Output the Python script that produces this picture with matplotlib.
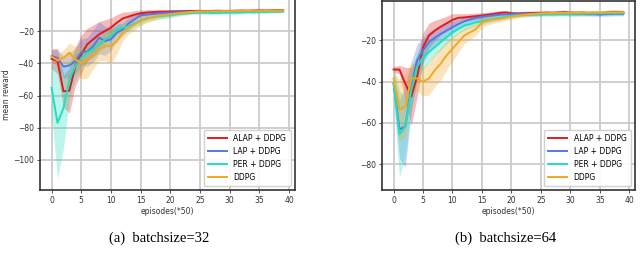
import numpy as np
import matplotlib.pyplot as plt

episodes = np.arange(40)
labels = ["ALAP + DDPG", "LAP + DDPG", "PER + DDPG", "DDPG"]
colors = ["#e01b1b", "#5577e8", "#1fe0be", "#f4a720"]

# batchsize = 32
alap32 = [-37.1, -38.5, -57.3, -56.9, -41.7, -34.4, -28.1, -25.0, -21.9, -19.8,
          -17.7, -14.6, -12.0, -10.8, -9.6, -8.8, -8.3, -8.1, -7.9, -7.8,
          -7.7, -7.6, -7.5, -7.4, -7.3, -7.3, -7.4, -7.3, -7.2, -7.3,
          -7.3, -7.2, -7.1, -7.2, -7.1, -7.0, -7.1, -7.0, -6.9, -6.9]
alap32_sd = [6, 8, 10, 14, 12, 12, 10, 9, 8, 7, 6, 5, 4, 3, 2.5, 2, 1.8, 1.6, 1.5, 1.4,
             1.3, 1.2, 1.1, 1, 1, 1, 1, 1, 1, 1, 1, 1, 1, 1, 1, 1, 1, 1, 1, 1]
lap32 = [-35.4, -36.5, -42.0, -41.2, -38.5, -32.9, -32.7, -29.2, -24.0, -26.0,
         -25.0, -20.8, -18.8, -15.0, -12.5, -10.0, -9.6, -9.2, -8.8, -8.5,
         -8.3, -8.1, -8.0, -7.9, -7.8, -7.6, -7.7, -7.6, -7.5, -7.6,
         -7.6, -7.5, -7.5, -7.4, -7.4, -7.3, -7.4, -7.3, -7.3, -7.2]
lap32_sd = [4, 5, 7, 8, 8, 8, 9, 10, 10, 9, 7, 5, 4, 4, 3, 2.5, 2, 2, 1.8, 1.6,
            1.5, 1.4, 1.3, 1.2, 1.1, 1, 1, 1, 1, 1, 1, 1, 1, 1, 1, 1, 1, 1, 1, 1]
per32 = [-55.2, -77.0, -67.7, -50.0, -41.7, -36.5, -33.3, -31.2, -28.1, -25.0,
         -22.9, -18.8, -17.7, -16.7, -15.0, -13.5, -12.0, -11.4, -10.8, -10.4,
         -10.0, -9.5, -9.0, -8.7, -8.5, -8.3, -8.4, -8.6, -8.5, -8.4,
         -8.3, -8.4, -8.2, -8.0, -8.1, -7.9, -7.8, -7.7, -7.6, -7.5]
per32_sd = [15, 35, 25, 12, 8, 6, 5, 5, 5, 5, 4, 3.5, 3, 3, 2.5, 2.2, 2, 1.8, 1.6, 1.5,
            1.4, 1.3, 1.2, 1.1, 1, 1, 1, 1, 1, 1, 1, 1, 1, 1, 1, 1, 1, 1, 1, 1]
ddpg32 = [-35.8, -38.1, -36.5, -33.3, -37.5, -39.6, -38.5, -35.4, -31.2, -29.2,
          -29.2, -26.0, -20.8, -17.7, -15.6, -13.5, -12.3, -11.3, -10.4, -9.9,
          -9.4, -8.9, -8.5, -8.1, -7.8, -7.6, -7.6, -7.5, -7.5, -7.4,
          -7.4, -7.4, -7.3, -7.3, -7.2, -7.2, -7.2, -7.1, -7.1, -7.0]
ddpg32_sd = [3, 4, 5, 6, 8, 10, 11, 8, 7, 9, 11, 8, 5, 4, 3.5, 3, 2.5, 2.2, 2, 1.8,
             1.6, 1.4, 1.2, 1.1, 1, 1, 1, 1, 1, 1, 1, 1, 1, 1, 1, 1, 1, 1, 1, 1]

# batchsize = 64
alap64 = [-34.1, -34.1, -41.0, -47.2, -37.6, -23.2, -17.6, -15.2, -13.3, -11.7,
          -10.0, -9.0, -8.8, -8.5, -8.2, -7.9, -7.5, -7.1, -6.6, -6.4,
          -6.8, -6.9, -6.8, -6.7, -6.6, -6.6, -6.5, -6.6, -6.4, -6.3,
          -6.5, -6.6, -6.5, -6.7, -6.6, -6.8, -6.5, -6.2, -6.3, -6.4]
alap64_sd = [1.5, 2, 8, 14, 10, 7, 6, 5, 4, 3.5, 3, 2, 1.8, 1.6, 1.5, 1.4, 1.3, 1.2, 1.1, 1,
             1, 1, 1, 1, 1, 1, 1, 1, 1, 1, 1, 1, 1, 1, 1, 1, 1, 1, 1, 1]
lap64 = [-40.8, -63.2, -61.6, -42.4, -29.6, -24.8, -20.8, -18.7, -16.8, -15.2,
         -13.6, -12.0, -10.7, -9.8, -9.0, -8.5, -8.1, -7.8, -7.5, -7.3,
         -7.2, -7.2, -7.1, -7.0, -7.0, -6.9, -6.9, -7.0, -6.9, -6.9,
         -7.0, -7.1, -7.0, -7.1, -7.2, -7.3, -7.2, -7.1, -7.0, -7.0]
lap64_sd = [5, 14, 20, 12, 8, 6, 5, 4.5, 4, 3.5, 3, 2.5, 2.2, 2, 1.8, 1.6, 1.5, 1.4, 1.3, 1.2,
            1.1, 1, 1, 1, 1, 1, 1, 1, 1, 1, 1, 1, 1, 1, 1, 1, 1, 1, 1, 1]
per64 = [-40.8, -65.6, -61.6, -44.0, -32.8, -28.0, -25.6, -23.2, -20.8, -18.4,
         -16.0, -14.4, -12.8, -12.0, -11.2, -10.6, -10.0, -9.5, -9.0, -8.5,
         -8.0, -7.8, -7.6, -7.5, -7.4, -7.3, -7.2, -7.2, -7.1, -7.1,
         -7.1, -7.0, -7.0, -6.9, -6.9, -6.8, -6.8, -6.8, -6.7, -6.7]
per64_sd = [8, 21, 14, 10, 7, 6, 5, 4, 4, 3.5, 3, 2.5, 2.2, 2, 1.8, 1.6, 1.5, 1.4, 1.3, 1.2,
            1.1, 1, 1, 1, 1, 1, 1, 1, 1, 1, 1, 1, 1, 1, 1, 1, 1, 1, 1, 1]
ddpg64 = [-38.4, -53.6, -52.0, -38.4, -38.4, -40.0, -38.4, -34.4, -31.2, -27.2,
          -24.0, -20.8, -17.6, -16.0, -14.4, -11.2, -10.4, -9.9, -9.5, -9.0,
          -8.5, -8.0, -7.6, -7.3, -7.0, -6.8, -6.7, -6.7, -6.6, -6.6,
          -6.5, -6.6, -6.5, -6.5, -6.4, -6.4, -6.4, -6.3, -6.3, -6.3]
ddpg64_sd = [3, 15, 15, 8, 6, 7, 8, 8, 8, 7, 6, 5, 4, 3.5, 3, 2.5, 2, 1.8, 1.6, 1.4,
             1.2, 1.1, 1, 1, 1, 1, 1, 1, 1, 1, 1, 1, 1, 1, 1, 1, 1, 1, 1, 1]

panels = [
    dict(means=[alap32, lap32, per32, ddpg32], sds=[alap32_sd, lap32_sd, per32_sd, ddpg32_sd],
         yticks=[-20, -40, -60, -80, -100], ylim=(-118.75, 0.0),
         rect=[0.0625, 0.291, 0.398, 0.712], caption="(a)  batchsize=32", cx=0.249, ylabel=True),
    dict(means=[alap64, lap64, per64, ddpg64], sds=[alap64_sd, lap64_sd, per64_sd, ddpg64_sd],
         yticks=[-20, -40, -60, -80], ylim=(-92.6, -0.6),
         rect=[0.597, 0.291, 0.395, 0.707], caption="(b)  batchsize=64", cx=0.79, ylabel=False),
]

fig = plt.figure(figsize=(6.4, 2.68), dpi=100)
for p in panels:
    ax = fig.add_axes(p["rect"])
    ax.grid(True, color="#cccccc", linewidth=1.3)
    ax.set_axisbelow(True)
    for m, s, c in zip(p["means"], p["sds"], colors):
        m = np.array(m)
        s = np.array(s)
        ax.fill_between(episodes, m - s, m + s, color=c, alpha=0.3, linewidth=0)
    handles = []
    for m, c, lab in zip(p["means"], colors, labels):
        h, = ax.plot(episodes, m, color=c, linewidth=1.4, label=lab)
        handles.append(h)
    ax.set_xlim(-1.95, 40.95)
    ax.set_ylim(*p["ylim"])
    ax.set_xticks(range(0, 41, 5))
    ax.set_yticks(p["yticks"])
    ax.tick_params(labelsize=5.5, length=2.5, width=0.6, pad=2, colors="#333333")
    for sp in ax.spines.values():
        sp.set_color("#333333")
        sp.set_linewidth(1.2)
    ax.set_xlabel("episodes(*50)", fontsize=5.5, labelpad=1.5, color="#333333")
    if p["ylabel"]:
        ax.set_ylabel("mean reward", fontsize=5.5, labelpad=1, color="#333333")
    ax.legend(handles=handles, loc="lower right", fontsize=5.5, handlelength=2.5,
              borderpad=0.6, labelspacing=0.5, framealpha=0.9)
    fig.text(p["cx"], 0.112, p["caption"], ha="center", va="center",
             family="Liberation Serif", fontsize=10.5)

fig.savefig("out.png", dpi=100)
